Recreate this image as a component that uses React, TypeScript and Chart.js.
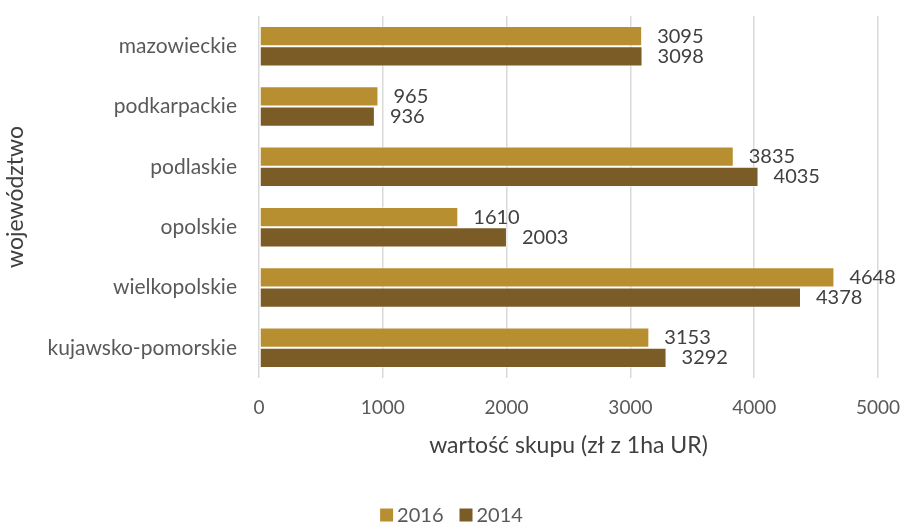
import React, { useEffect, useRef } from "react";
import { Chart, registerables } from "chart.js";

Chart.register(...registerables);

const categories = ["mazowieckie", "podkarpackie", "podlaskie", "opolskie", "wielkopolskie", "kujawsko-pomorskie"];
const values2016 = [3095, 965, 3835, 1610, 4648, 3153];
const values2014 = [3098, 936, 4035, 2003, 4378, 3292];
const xTicks = [0, 1000, 2000, 3000, 4000, 5000];
const FONT = "Lato, 'Open Sans', sans-serif";

const labelPlugin = {
  id: "barValueLabels",
  afterDatasetsDraw(chart: any) {
    const ctx = chart.ctx;
    ctx.save();
    ctx.font = `20px ${FONT}`;
    ctx.fillStyle = "#404040";
    ctx.textAlign = "left";
    ctx.textBaseline = "middle";
    chart.data.datasets.forEach((ds: any, di: number) => {
      const meta = chart.getDatasetMeta(di);
      meta.data.forEach((el: any, i: number) => {
        ctx.fillText(String(ds.data[i]), el.x + 15, el.y);
      });
    });
    ctx.restore();
  },
  afterDraw(chart: any) {
    // legend at the bottom, centered
    const ctx = chart.ctx;
    ctx.save();
    ctx.font = `20px ${FONT}`;
    ctx.textBaseline = "middle";
    ctx.textAlign = "left";
    const box = 13, gapBoxText = 4, gapItems = 16;
    const items = chart.data.datasets.map((ds: any) => ({
      label: ds.label,
      color: ds.backgroundColor,
      w: box + gapBoxText + ctx.measureText(ds.label).width,
    }));
    const total = items.reduce((a: number, it: any) => a + it.w, 0) + gapItems * (items.length - 1);
    let x = chart.width / 2 - total / 2;
    const y = chart.height - 10;
    items.forEach((it: any) => {
      ctx.fillStyle = it.color;
      ctx.fillRect(x, y - box / 2, box, box);
      ctx.fillStyle = "#595959";
      ctx.fillText(it.label, x + box + gapBoxText, y + 1);
      x += it.w + gapItems;
    });
    ctx.restore();
  },
};

export default function App() {
  const ref = useRef<HTMLCanvasElement | null>(null);
  useEffect(() => {
    document.body.style.margin = "0";
    const chart = new Chart(ref.current!, {
      type: "bar",
      data: {
        labels: categories,
        datasets: [
          { label: "2016", data: values2016, backgroundColor: "#B88F30", borderColor: "rgba(255,255,255,0.5)", borderWidth: 1, borderSkipped: false },
          { label: "2014", data: values2014, backgroundColor: "#7B5C26", borderColor: "rgba(255,255,255,0.5)", borderWidth: 1, borderSkipped: false },
        ],
      },
      options: {
        indexAxis: "y",
        animation: false,
        responsive: false,
        datasets: { bar: { categoryPercentage: 0.67, barPercentage: 1 } },
        layout: { padding: { top: 16, right: 25, left: 0, bottom: 0 } },
        scales: {
          x: {
            min: 0,
            max: 5000,
            afterBuildTicks: (s: any) => { s.ticks = xTicks.map((v) => ({ value: v })); },
            afterFit: (s: any) => { s.height = 147; s.paddingLeft = 0; s.paddingRight = 0; },
            grid: { color: "#d9d9d9", lineWidth: 1.5, drawTicks: false },
            border: { display: false },
            ticks: { color: "#595959", font: { family: FONT, size: 19 }, padding: 18, callback: (v: any) => String(v) },
            title: { display: true, text: "wartość skupu (zł z 1ha UR)", color: "#404040", font: { family: FONT, size: 23 }, padding: { top: 0, bottom: 66 } },
          },
          y: {
            afterFit: (s: any) => { s.width = 259; s.paddingTop = 0; s.paddingBottom = 0; },
            grid: { display: false, drawTicks: false },
            border: { display: false },
            ticks: { color: "#595959", font: { family: FONT, size: 21 }, padding: 22 },
            title: { display: true, text: "województwo", color: "#404040", font: { family: FONT, size: 23 }, padding: { top: 2, bottom: 0 } },
          },
        },
        plugins: {
          legend: { display: false },
          tooltip: { enabled: false },
        },
      },
      plugins: [labelPlugin],
    });
    return () => chart.destroy();
  }, []);
  return <canvas ref={ref} width={903} height={525} style={{ display: "block" }} />;
}
